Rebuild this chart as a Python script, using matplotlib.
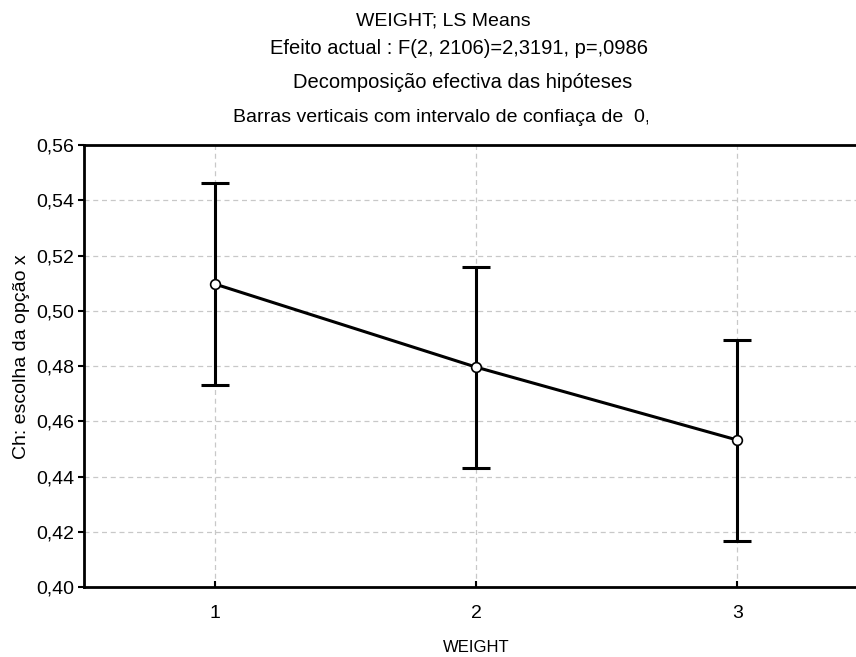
import matplotlib
matplotlib.use("Agg")
import matplotlib.pyplot as plt
from matplotlib.transforms import Bbox, TransformedBbox

plt.rcParams['font.family'] = ['Liberation Sans', 'DejaVu Sans']

weight_levels = [1, 2, 3]
ls_means = [0.5097, 0.4796, 0.4532]
ci_lower = [0.4732, 0.4432, 0.4166]
ci_upper = [0.5461, 0.5159, 0.4895]

yticks = [0.40, 0.42, 0.44, 0.46, 0.48, 0.50, 0.52, 0.54, 0.56]
ytick_labels = ['0,40', '0,42', '0,44', '0,46', '0,48', '0,50', '0,52', '0,54', '0,56']

title_lines = [
    "WEIGHT; LS Means",
    "Efeito actual : F(2, 2106)=2,3191, p=,09861",
    "Decomposição efectiva das hipóteses",
    "Barras verticais com intervalo de confiaça de  0,95",
]

W, H = 856, 657
FS = 14
AX_L, AX_R, AX_T, AX_B = 84, 868, 145, 587
fig = plt.figure(figsize=(W / 100, H / 100), dpi=100)
ax = fig.add_axes([AX_L / W, 1 - AX_B / H, (AX_R - AX_L) / W, (AX_B - AX_T) / H])

err_low = [m - lo for m, lo in zip(ls_means, ci_lower)]
err_high = [hi - m for m, hi in zip(ls_means, ci_upper)]
ax.errorbar(weight_levels, ls_means, yerr=[err_low, err_high], fmt='none',
            ecolor='black', elinewidth=2.2, capsize=10, capthick=2.2, zorder=3)
ax.plot(weight_levels, ls_means, color='black', lw=2.2, marker='o', ms=7,
        mfc='white', mec='black', mew=1.2, zorder=4)

ax.set_xlim(0.5, 3.5)
ax.set_ylim(0.40, 0.56)
ax.set_xticks(weight_levels)
ax.set_xticklabels([str(v) for v in weight_levels])
ax.set_yticks(yticks)
ax.set_yticklabels(ytick_labels)
ax.tick_params(axis='both', labelsize=FS, width=1.5, length=4, pad=3)
ax.tick_params(axis='x', direction='in', pad=13)

ax.grid(True, linestyle=(0, (4, 3)), color='#c8c8c8', lw=0.9)
ax.set_axisbelow(True)
for s in ax.spines.values():
    s.set_linewidth(2)

ax.set_xlabel("WEIGHT", fontsize=12)
ax.xaxis.label.set_va('center')
ax.xaxis.set_label_coords(0.5, -(647 - AX_B) / (AX_B - AX_T))
ax.set_ylabel("Ch: escolha da opção x", fontsize=FS)
ax.yaxis.set_label_coords(-(AX_L - 30) / (AX_R - AX_L), 0.52)

# title block, clipped at the right edge of its box
clip_box = TransformedBbox(Bbox([[0, 0], [648 / W, 1]]), fig.transFigure)
ys = [21, 49, 83, 117]
starts = [None, 270, 293, 233]
sizes = [FS, 14.5, 14.5, FS]
for i, (line, y) in enumerate(zip(title_lines, ys)):
    if i == 0:
        t = fig.text(443 / W, 1 - y / H, line, ha='center', va='center', fontsize=sizes[i])
    else:
        t = fig.text(starts[i] / W, 1 - y / H, line, ha='left', va='center', fontsize=sizes[i])
    t.set_clip_box(clip_box)
    t.set_clip_on(True)

fig.savefig("out.png", dpi=100)
